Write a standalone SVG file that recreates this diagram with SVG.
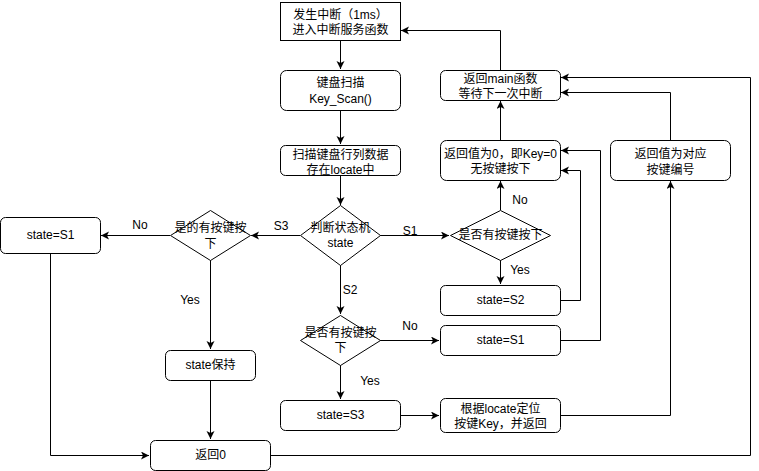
<svg xmlns="http://www.w3.org/2000/svg" width="759" height="471" viewBox="0 0 759 471">
<style>
.n{fill:#fff;stroke:#000;stroke-width:1}
.t{font-family:"Liberation Sans","Noto Sans CJK SC",sans-serif;font-size:12px;fill:#000;text-anchor:middle;dominant-baseline:central}
.e{fill:none;stroke:#000;stroke-width:1;marker-end:url(#a)}
.l{fill:none;stroke:#000;stroke-width:1}
</style>
<defs>
<marker id="a" markerUnits="userSpaceOnUse" markerWidth="10" markerHeight="10" refX="8" refY="4" orient="auto">
<path d="M0,0 L8,4 L0,8 L2,4 z" fill="#000"/>
</marker>
</defs>
<rect width="759" height="471" fill="#fff"/>
<g id="connectors">
<path class="e" d="M340.5,40 V69"/>
<path class="e" d="M340.5,110 V144"/>
<path class="e" d="M340.5,175 V205"/>
<path class="e" d="M380,235.5 H449"/>
<path class="e" d="M300,235.5 H251"/>
<path class="e" d="M170,235.5 H101"/>
<path class="e" d="M500.5,210 V181"/>
<path class="e" d="M500.5,260 V284"/>
<path class="e" d="M500.5,140 V101"/>
<path class="e" d="M500.5,70 V30.5 H401"/>
<path class="e" d="M560,300.5 H580.5 V170.5 H561"/>
<path class="e" d="M560,340.5 H600.5 V150.5 H561"/>
<path class="e" d="M340.5,265 V314"/>
<path class="e" d="M380,340.5 H439"/>
<path class="e" d="M340.5,365 V399"/>
<path class="e" d="M400,415.5 H439"/>
<path class="e" d="M560,415.5 H670.5 V181"/>
<path class="e" d="M670.5,140 V92.5 H561"/>
<path class="e" d="M270,455.5 H750.5 V77.5 H561"/>
<path class="e" d="M210.5,260 V349"/>
<path class="e" d="M210.5,380 V439"/>
<path class="e" d="M50.5,253 V455.5 H149"/>
</g>
<g id="labels">
<text class="t" x="140" y="225">No</text>
<text class="t" x="281" y="226">S3</text>
<text class="t" x="410" y="231">S1</text>
<text class="t" x="520" y="200">No</text>
<text class="t" x="520" y="270">Yes</text>
<text class="t" x="350" y="290">S2</text>
<text class="t" x="410" y="326">No</text>
<text class="t" x="370" y="381">Yes</text>
<text class="t" x="190" y="300">Yes</text>
</g>
<g id="start">
<rect class="n" x="280.5" y="2.5" width="120" height="38"/>
<text class="t" x="340.5" y="15">发生中断（1ms）</text>
<text class="t" x="340.5" y="30">进入中断服务函数</text>
</g>
<g id="keyscan">
<rect class="n" x="280.5" y="70.5" width="120" height="40" rx="6"/>
<text class="t" x="340.5" y="83">键盘扫描</text>
<text class="t" x="340.5" y="99">Key_Scan()</text>
</g>
<g id="scan">
<rect class="n" x="280.5" y="145.5" width="120" height="30" rx="5"/>
<text class="t" x="340.5" y="155">扫描键盘行列数据</text>
<text class="t" x="340.5" y="170">存在locate中</text>
</g>
<g id="fsm">
<path class="n" d="M340.5,205.5 L380.5,235.5 L340.5,265.5 L300.5,235.5 z"/>
<text class="t" x="340.5" y="228">判断状态机</text>
<text class="t" x="340.5" y="243">state</text>
</g>
<g id="d1">
<path class="n" d="M500.5,210.5 L550.5,235.5 L500.5,260.5 L450.5,235.5 z"/>
<text class="t" x="500.5" y="235">是否有按键按下</text>
</g>
<g id="ret0key">
<rect class="n" x="440.5" y="140.5" width="120" height="40" rx="6"/>
<text class="t" x="500.5" y="154">返回值为0，即Key=0</text>
<text class="t" x="500.5" y="169">无按键按下</text>
</g>
<g id="retmain">
<rect class="n" x="440.5" y="70.5" width="120" height="30" rx="5"/>
<text class="t" x="500.5" y="79">返回main函数</text>
<text class="t" x="500.5" y="94">等待下一次中断</text>
</g>
<g id="retkey">
<rect class="n" x="610.5" y="140.5" width="120" height="40" rx="6"/>
<text class="t" x="670.5" y="154">返回值为对应</text>
<text class="t" x="670.5" y="170">按键编号</text>
</g>
<g id="s2">
<rect class="n" x="440.5" y="285.5" width="120" height="30" rx="5"/>
<text class="t" x="500.5" y="300">state=S2</text>
</g>
<g id="d2">
<path class="n" d="M340.5,315.5 L380.5,340.5 L340.5,365.5 L300.5,340.5 z"/>
<text class="t" x="340.5" y="333">是否有按键按</text>
<text class="t" x="340.5" y="348">下</text>
</g>
<g id="s1r">
<rect class="n" x="440.5" y="325.5" width="120" height="30" rx="5"/>
<text class="t" x="500.5" y="340">state=S1</text>
</g>
<g id="s3">
<rect class="n" x="280.5" y="400.5" width="120" height="30" rx="5"/>
<text class="t" x="340.5" y="415">state=S3</text>
</g>
<g id="locate">
<rect class="n" x="440.5" y="398.5" width="120" height="34" rx="5"/>
<text class="t" x="500.5" y="409">根据locate定位</text>
<text class="t" x="500.5" y="424">按键Key，并返回</text>
</g>
<g id="d3">
<path class="n" d="M210.5,210.5 L250.5,235.5 L210.5,260.5 L170.5,235.5 z"/>
<text class="t" x="210.5" y="228">是的有按键按</text>
<text class="t" x="210.5" y="244">下</text>
</g>
<g id="s1l">
<rect class="n" x="0.5" y="217.5" width="100" height="36" rx="5"/>
<text class="t" x="50.5" y="235">state=S1</text>
</g>
<g id="keep">
<rect class="n" x="165.5" y="350.5" width="90" height="30" rx="5"/>
<text class="t" x="210.5" y="365">state保持</text>
</g>
<g id="ret0">
<rect class="n" x="150.5" y="440.5" width="120" height="30" rx="5"/>
<text class="t" x="210.5" y="455">返回0</text>
</g>
</svg>
